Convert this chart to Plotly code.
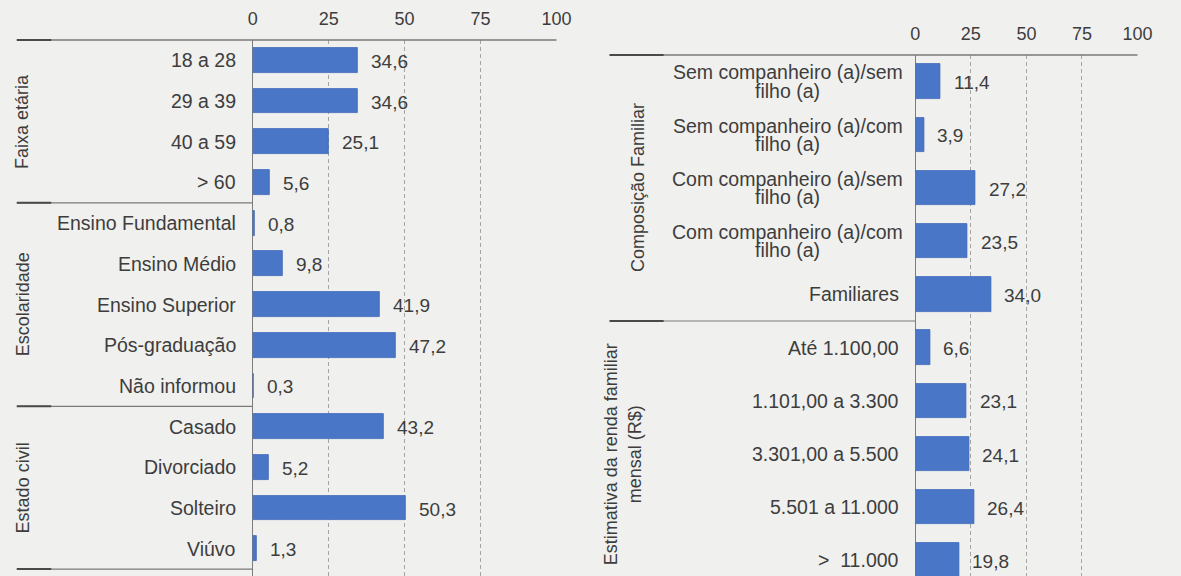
import plotly.graph_objects as go

# ---- data -----------------------------------------------------------------
faixa_labels = ["18 a 28", "29 a 39", "40 a 59", "> 60"]
faixa_values = [34.6, 34.6, 25.1, 5.6]

escolaridade_labels = ["Ensino Fundamental", "Ensino Médio", "Ensino Superior",
                       "Pós-graduação", "Não informou"]
escolaridade_values = [0.8, 9.8, 41.9, 47.2, 0.3]

civil_labels = ["Casado", "Divorciado", "Solteiro", "Viúvo"]
civil_values = [43.2, 5.2, 50.3, 1.3]

composicao_labels = ["Sem companheiro (a)/sem\nfilho (a)",
                     "Sem companheiro (a)/com\nfilho (a)",
                     "Com companheiro (a)/sem\nfilho (a)",
                     "Com companheiro (a)/com\nfilho (a)",
                     "Familiares"]
composicao_values = [11.4, 3.9, 27.2, 23.5, 34.0]

renda_labels = ["Até 1.100,00", "1.101,00 a 3.300", "3.301,00 a 5.500",
                "5.501 a 11.000", ">  11.000"]
renda_values = [6.6, 23.1, 24.1, 26.4, 19.8]

left_groups = [("Faixa etária", faixa_labels, faixa_values),
               ("Escolaridade", escolaridade_labels, escolaridade_values),
               ("Estado civil", civil_labels, civil_values)]
right_groups = [("Composição Familiar", composicao_labels, composicao_values),
                ("Estimativa da renda familiar<br>mensal (R$)", renda_labels, renda_values)]

x_ticks = [0, 25, 50, 75, 100]

# ---- style ----------------------------------------------------------------
W, H = 1181, 576
FONT = "Liberation Sans, Arial, sans-serif"
TEXT = "#3d3d3d"
BAR = "#4a76c8"
BG = "#f0f0ee"
LABEL_SIZE = 19.5


def px(x):
    return x / W


def py(y):
    return 1 - y / H


def fmt(v):
    return f"{v:.1f}".replace(".", ",")


panels = [
    dict(groups=left_groups, xa="x", ya="y", xdom=[px(252), px(561)], top=40,
         row_px=40.7, bar_w=0.61, label_x=237, wrap_center=None,
         title_x=[18, 18, 18], line_left=12, dark_end=47),
    dict(groups=right_groups, xa="x2", ya="y2", xdom=[px(926), px(1152)], top=55,
         row_px=53.2, bar_w=0.65, label_x=911, wrap_center=796,
         title_x=[644, 628], line_left=615, dark_end=670),
]

fig = go.Figure()
annotations = []
shapes = []

for p in panels:
    cats, vals = [], []
    for _, labels, values in p["groups"]:
        cats += labels
        vals += values
    fig.add_trace(go.Bar(
        x=vals, y=cats, orientation="h", width=p["bar_w"],
        marker=dict(color=BAR, line=dict(color="#3e67b5", width=0.8)),
        xaxis=p["xa"], yaxis=p["ya"], showlegend=False, hoverinfo="skip",
    ))

    # value labels next to each bar end
    for c, v in zip(cats, vals):
        annotations.append(dict(
            x=v, y=c, xref=p["xa"], yref=p["ya"], text=fmt(v), showarrow=False,
            xanchor="left", yanchor="middle", xshift=11, yshift=-1,
            font=dict(family=FONT, size=19, color=TEXT),
        ))

    # category labels; wrapped labels are centred line by line
    for c in cats:
        lines = c.split("\n")
        if len(lines) == 1:
            annotations.append(dict(
                x=px(p["label_x"]), y=c, xref="paper", yref=p["ya"], text=c,
                showarrow=False, xanchor="right", yanchor="middle",
                font=dict(family=FONT, size=LABEL_SIZE, color=TEXT),
            ))
        else:
            step = 18.5
            for k, line in enumerate(lines):
                shift = step * ((len(lines) - 1) / 2 - k)
                annotations.append(dict(
                    x=px(p["wrap_center"]), y=c, xref="paper", yref=p["ya"],
                    text=line, showarrow=False, xanchor="center",
                    yanchor="middle", yshift=shift,
                    font=dict(family=FONT, size=LABEL_SIZE, color=TEXT),
                ))

    # group titles and separator rules
    idx = 0
    for gi, (title, labels, _) in enumerate(p["groups"]):
        mid = idx + (len(labels) - 1) / 2
        annotations.append(dict(
            x=px(p["title_x"][gi]), y=mid, xref="paper", yref=p["ya"], text=title,
            showarrow=False, textangle=-90, xanchor="center", yanchor="middle",
            align="center", font=dict(family=FONT, size=18, color=TEXT),
        ))
        idx += len(labels)
        sep_y = idx - 0.5
        shapes.append(dict(type="line", xref="paper", yref=p["ya"],
                           x0=px(p["line_left"]), x1=p["xdom"][0], y0=sep_y, y1=sep_y,
                           line=dict(color="#7a7a7a", width=1.2)))
        shapes.append(dict(type="line", xref="paper", yref=p["ya"],
                           x0=px(p["line_left"]), x1=px(p["dark_end"]), y0=sep_y, y1=sep_y,
                           line=dict(color="#4a4a4a", width=2)))

    # top rule across labels and plot
    shapes.append(dict(type="line", xref="paper", yref="paper",
                       x0=px(p["line_left"]), x1=p["xdom"][1],
                       y0=py(p["top"]), y1=py(p["top"]),
                       line=dict(color="#7a7a7a", width=1.3)))
    shapes.append(dict(type="line", xref="paper", yref="paper",
                       x0=px(p["line_left"]), x1=px(p["dark_end"]),
                       y0=py(p["top"]), y1=py(p["top"]),
                       line=dict(color="#4a4a4a", width=2)))

    p["cats"] = cats
    p["yrange"] = [-0.5 + (H - p["top"]) / p["row_px"], -0.5]

xaxis_common = dict(
    range=[0, 100], tickvals=x_ticks, side="top", showline=False,
    showgrid=True, gridcolor="#a4a4a4", griddash="4px,3px", gridwidth=1,
    zeroline=True, zerolinecolor="#7d7d7d", zerolinewidth=1.3,
    ticks="", ticklabelstandoff=10,
    tickfont=dict(family=FONT, size=18, color=TEXT),
)

L, R = panels
fig.update_layout(
    width=W, height=H, margin=dict(l=0, r=0, t=0, b=0),
    paper_bgcolor=BG, plot_bgcolor="rgba(0,0,0,0)",
    xaxis=dict(domain=L["xdom"], anchor="y", **xaxis_common),
    yaxis=dict(domain=[0, py(L["top"])], anchor="x", range=L["yrange"],
               type="category", categoryorder="array", categoryarray=L["cats"],
               showticklabels=False, showgrid=False, zeroline=False),
    xaxis2=dict(domain=R["xdom"], anchor="y2", **xaxis_common),
    yaxis2=dict(domain=[0, py(R["top"])], anchor="x2", range=R["yrange"],
                type="category", categoryorder="array", categoryarray=R["cats"],
                showticklabels=False, showgrid=False, zeroline=False),
    annotations=annotations, shapes=shapes, bargap=0,
)

fig.write_html("out.html")
